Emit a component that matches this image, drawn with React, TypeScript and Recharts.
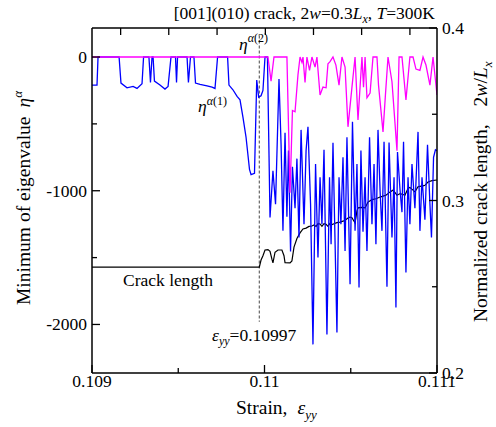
import React from 'react';
import { LineChart, Line, XAxis, YAxis, ReferenceLine } from 'recharts';

const FONT = '"Liberation Serif", "Times New Roman", serif';

// eta^alpha(1), minimum eigenvalue (blue)
const blueStrain = [
  0.109, 0.109029, 0.109035, 0.109157, 0.109168, 0.109203, 0.109238, 0.109261, 0.10929, 0.109299,
  0.10933, 0.109339, 0.109348, 0.109354, 0.109362, 0.109394, 0.109423, 0.109441, 0.109458, 0.109484,
  0.10949, 0.109496, 0.109551, 0.109559, 0.109571, 0.109591, 0.1096, 0.109626, 0.109667, 0.109696,
  0.109713, 0.109728, 0.109786, 0.109794, 0.109817, 0.109841, 0.109858, 0.109875, 0.109893, 0.109913,
  0.109922, 0.109942, 0.109955, 0.109966, 0.10998, 0.109991, 0.110003, 0.110017,
  0.110032, 0.110049, 0.110064, 0.110084, 0.110096, 0.110107, 0.110119, 0.11013, 0.110139, 0.110151,
  0.110162, 0.110177, 0.110188, 0.1102, 0.110212, 0.110229, 0.110241, 0.110252, 0.110267, 0.110281,
  0.110296, 0.11031, 0.110322, 0.110333, 0.110345, 0.110362, 0.110377, 0.110386, 0.110397, 0.11042,
  0.110432, 0.110443, 0.110455, 0.110467, 0.110478, 0.110496, 0.11051, 0.110525, 0.110536, 0.110548,
  0.110559, 0.110571, 0.110583, 0.110594, 0.110609, 0.110623, 0.110635, 0.110646, 0.110658, 0.11067,
  0.110681, 0.110693, 0.11071, 0.110722, 0.110739, 0.110751, 0.110762, 0.110771, 0.110786, 0.110797,
  0.110806, 0.11082, 0.110832, 0.110843, 0.110855, 0.110872, 0.11089, 0.110901, 0.110913, 0.11093,
  0.110945, 0.110959, 0.110968, 0.11098, 0.110991, 0.111,
];
const blueEta = [
  -210, -210, 0, 0, -195, -230, -220, -235, -200, 0,
  0, -190, 0, 0, -180, -210, -240, -220, 0, 0,
  -190, 0, 0, -190, 0, 0, -195, -205, -215, -225,
  -235, 0, 0, -210, -245, -295, -320, -450, -600, -840,
  -880, -870, -172, -300, -290, -250, 0, 0,
  -1200, -850, -1100, -164, -650, -1300, -567, -1194, -700, -1455,
  -820, -1130, -760, -1350, -545, -1250, -700, -522, -1100, -2149,
  -800, -1500, -900, -1250, -694, -2075, -900, -1400, -642, -2060,
  -900, -1250, -750, -1450, -600, -1700, -485, -1300, -800, -1724,
  -700, -1306, -900, -1450, -600, -1250, -800, -1400, -545, -1000,
  -1300, -634, -1717, -640, -1350, -900, -1874, -710, -1000, -1160,
  -634, -1612, -900, -1250, -800, -1130, -560, -1300, -900, -1216,
  -657, -1100, -1350, -750, -694, -700,
];

// eta^alpha(2) (magenta)
const magentaStrain = [
  0.109, 0.11002, 0.110038, 0.110055, 0.11013, 0.110148, 0.110162, 0.110177, 0.110194, 0.110206,
  0.110217, 0.110223, 0.110235, 0.110246, 0.110261, 0.110275, 0.110293, 0.110304, 0.110322, 0.110339,
  0.110357, 0.110368, 0.11038, 0.110397, 0.110414, 0.110432, 0.110449, 0.110467, 0.110484, 0.110507,
  0.110525, 0.110542, 0.110565, 0.110574, 0.110583, 0.110594, 0.110612, 0.110629, 0.110652, 0.110661,
  0.110687, 0.110701, 0.110716, 0.110739, 0.110768, 0.11078, 0.110797, 0.11082, 0.110843, 0.110861,
  0.110878, 0.110901, 0.110919, 0.110936, 0.110959, 0.110977, 0.111,
];
const magentaEta = [
  0, 0, -180, 0, 0, -1015, -400, -410, -134, 0,
  -40, 0, -190, 0, -100, 0, -75, 0, -284, -225,
  -230, -50, -35, 0, -60, -210, 0, -75, -522, -225,
  0, -470, 0, -225, 0, -305, -270, 0, 0, -210,
  -560, -285, 0, -185, -700, 0, 0, -321, 0, 0,
  -90, -100, 0, -60, -210, 0, -284,
];

// normalized crack length 2w/Lx (right axis)
const crackStrain = [
  0.109, 0.10997, 0.10998, 0.109991, 0.110003, 0.11002, 0.110032, 0.110043, 0.110049, 0.110061,
  0.110078, 0.110101, 0.110113, 0.110119, 0.110148, 0.110159, 0.110171, 0.110188, 0.110206, 0.110223,
  0.110241, 0.110258, 0.110275, 0.110287, 0.110299, 0.11031, 0.110322, 0.110333, 0.110345, 0.110357,
  0.110368, 0.11038, 0.110391, 0.110403, 0.11042, 0.110438, 0.110455, 0.110467, 0.110484, 0.110496,
  0.110507, 0.110519, 0.110525, 0.110536, 0.110542, 0.110565, 0.110583, 0.1106, 0.110623, 0.110646,
  0.11067, 0.110687, 0.110704, 0.110716, 0.110728, 0.110745, 0.110757, 0.110768, 0.110786, 0.110803,
  0.110814, 0.110832, 0.110843, 0.110861, 0.110872, 0.11089, 0.110901, 0.110919, 0.11093, 0.110948,
  0.110971, 0.111,
];
const crackLength = [
  0.2614, 0.2614, 0.2655, 0.268, 0.2713, 0.2715, 0.2705, 0.266, 0.2638, 0.27,
  0.2713, 0.2713, 0.268, 0.264, 0.2638, 0.265, 0.273, 0.278, 0.2812, 0.2835,
  0.284, 0.285, 0.2852, 0.2858, 0.285, 0.2866, 0.2864, 0.285, 0.2866, 0.2862,
  0.285, 0.2868, 0.286, 0.2865, 0.2872, 0.2875, 0.288, 0.2886, 0.2898, 0.2904,
  0.29, 0.288, 0.287, 0.294, 0.2957, 0.296, 0.2957, 0.2991, 0.3005, 0.301,
  0.302, 0.3025, 0.303, 0.304, 0.305, 0.306, 0.3045, 0.303, 0.304, 0.3035,
  0.303, 0.307, 0.3075, 0.306, 0.305, 0.308, 0.3082, 0.3085, 0.3088, 0.3107,
  0.3115, 0.3119,
];

const strainTicks = [0.109, 0.1095, 0.11, 0.1105, 0.111];
const strainTickLabels = ['0.109', '', '0.11', '', '0.111'];
const topTicks = [0.109166, 0.109445, 0.109725, 0.110005, 0.110284, 0.110563, 0.110843];
const etaTicks = [0, -500, -1000, -1500, -2000];
const etaTickLabels = ['0', '', '-1000', '', '-2000'];
const crackTicks = [0.2, 0.25, 0.3, 0.35, 0.4];
const crackTickLabels = ['0.2', '', '0.3', '', '0.4'];
const transitionStrain = 0.10997;

const toRows = (xs: number[], ys: number[]) => xs.map((s, i) => ({ strain: s, v: ys[i] }));
const blueData = toRows(blueStrain, blueEta);
const magentaData = toRows(magentaStrain, magentaEta);
const crackData = toRows(crackStrain, crackLength);

const labelFor = (ticks: number[], labels: string[], v: number) => {
  const i = ticks.findIndex((t) => Math.abs(t - v) < 1e-9);
  return i >= 0 ? labels[i] : '';
};

const makeTick = (side: string, ticks: number[], labels: string[]) => (props: any) => {
  const { x, y, payload } = props;
  const label = labelFor(ticks, labels, payload.value);
  const len = label ? 8 : 5;
  const ts = { fontFamily: FONT, fontSize: 17.5, fill: '#000' };
  if (side === 'left') {
    return (
      <g>
        <line x1={x} y1={y} x2={x + len} y2={y} stroke="#000" strokeWidth={1.3} />
        <text x={x - 5} y={y + 6} textAnchor="end" {...ts}>{label}</text>
      </g>
    );
  }
  if (side === 'right') {
    return (
      <g>
        <line x1={x} y1={y} x2={x - len} y2={y} stroke="#000" strokeWidth={1.3} />
        <text x={x + 5} y={y + 6} textAnchor="start" {...ts}>{label}</text>
      </g>
    );
  }
  if (side === 'bottom') {
    return (
      <g>
        <line x1={x} y1={y} x2={x} y2={y - len} stroke="#000" strokeWidth={1.3} />
        <text x={x} y={y + 14} textAnchor="middle" {...ts}>{label}</text>
      </g>
    );
  }
  return <line x1={x} y1={y} x2={x} y2={y + 7} stroke="#000" strokeWidth={1.3} />;
};

export default function App() {
  return (
    <div style={{ position: 'absolute', left: 0, top: 0, width: 496, height: 427, background: '#fff' }}>
      <LineChart width={496} height={427} margin={{ top: 0, right: 0, bottom: 0, left: 0 }}>
        <XAxis
          xAxisId="bottom"
          type="number"
          dataKey="strain"
          domain={[0.109, 0.111]}
          allowDataOverflow
          ticks={strainTicks}
          interval={0}
          height={54}
          tickSize={0}
          tickMargin={0}
          tickLine={false}
          axisLine={{ stroke: '#000', strokeWidth: 1.5 }}
          tick={makeTick('bottom', strainTicks, strainTickLabels)}
        />
        <XAxis
          xAxisId="top"
          orientation="top"
          type="number"
          dataKey="strain"
          domain={[0.109, 0.111]}
          allowDataOverflow
          ticks={topTicks}
          interval={0}
          height={28}
          tickSize={0}
          tickMargin={0}
          tickLine={false}
          axisLine={{ stroke: '#000', strokeWidth: 1.5 }}
          tick={makeTick('top', topTicks, [])}
        />
        <YAxis
          yAxisId="left"
          type="number"
          domain={[-2363, 217]}
          allowDataOverflow
          ticks={etaTicks}
          interval={0}
          width={92}
          tickSize={0}
          tickMargin={0}
          tickLine={false}
          axisLine={{ stroke: '#000', strokeWidth: 1.5 }}
          tick={makeTick('left', etaTicks, etaTickLabels)}
        />
        <YAxis
          yAxisId="right"
          orientation="right"
          type="number"
          domain={[0.2, 0.4]}
          allowDataOverflow
          ticks={crackTicks}
          interval={0}
          width={59}
          tickSize={0}
          tickMargin={0}
          tickLine={false}
          axisLine={{ stroke: '#000', strokeWidth: 1.5 }}
          tick={makeTick('right', crackTicks, crackTickLabels)}
        />
        <ReferenceLine
          xAxisId="bottom"
          yAxisId="left"
          segment={[{ x: transitionStrain, y: 160 }, { x: transitionStrain, y: -1980 }]}
          stroke="#666"
          strokeWidth={1.2}
          strokeDasharray="3 2"
        />
        <Line
          data={crackData}
          xAxisId="bottom"
          yAxisId="right"
          dataKey="v"
          stroke="#000"
          strokeWidth={1.2}
          dot={false}
          isAnimationActive={false}
        />
        <Line
          data={blueData}
          xAxisId="bottom"
          yAxisId="left"
          dataKey="v"
          stroke="#0000ff"
          strokeWidth={1.3}
          dot={false}
          isAnimationActive={false}
        />
        <Line
          data={magentaData}
          xAxisId="bottom"
          yAxisId="left"
          dataKey="v"
          stroke="#ff00ff"
          strokeWidth={1.3}
          dot={false}
          isAnimationActive={false}
        />
      </LineChart>
      <svg
        width={496}
        height={427}
        style={{ position: 'absolute', left: 0, top: 0, pointerEvents: 'none' }}
        fontFamily={FONT}
        fill="#000"
      >
        <text x={435} y={19} fontSize={17.5} textAnchor="end">
          [001](010) crack, 2<tspan fontStyle="italic">w</tspan>=0.3<tspan fontStyle="italic">L</tspan>
          <tspan fontStyle="italic" fontSize={12} dy={4}>x</tspan>
          <tspan dy={-4}>, </tspan>
          <tspan fontStyle="italic">T</tspan>=300K
        </text>
        <text transform="translate(30,305) rotate(-90)" fontSize={19.5}>
          Minimum of eigenvalue
          <tspan dx={9} fontStyle="italic">η</tspan>
          <tspan fontStyle="italic" fontSize={13} dy={-8}>α</tspan>
        </text>
        <text transform="translate(487,322) rotate(-90)" fontSize={19.5}>
          Normalized crack length,
          <tspan dx={18}>2</tspan>
          <tspan fontStyle="italic">w</tspan>/<tspan fontStyle="italic">L</tspan>
          <tspan fontStyle="italic" fontSize={13} dy={5}>x</tspan>
        </text>
        <text x={236} y={414} fontSize={19.5}>
          Strain,
          <tspan dx={10} fontStyle="italic">ε</tspan>
          <tspan fontStyle="italic" fontSize={13} dy={5}>yy</tspan>
        </text>
        <text x={239} y={50} fontSize={17.5}>
          <tspan fontStyle="italic">η</tspan>
          <tspan fontStyle="italic" fontSize={12} dy={-8}>α</tspan>
          <tspan fontSize={12}>(2)</tspan>
        </text>
        <text x={198} y={112} fontSize={17.5}>
          <tspan fontStyle="italic">η</tspan>
          <tspan fontStyle="italic" fontSize={12} dy={-7}>α</tspan>
          <tspan fontSize={12}>(1)</tspan>
        </text>
        <text x={123} y={286} fontSize={17.5}>Crack length</text>
        <text x={212} y={341} fontSize={17.5}>
          <tspan fontStyle="italic">ε</tspan>
          <tspan fontStyle="italic" fontSize={12} dy={4}>yy</tspan>
          <tspan dy={-4}>=0.10997</tspan>
        </text>
      </svg>
    </div>
  );
}
